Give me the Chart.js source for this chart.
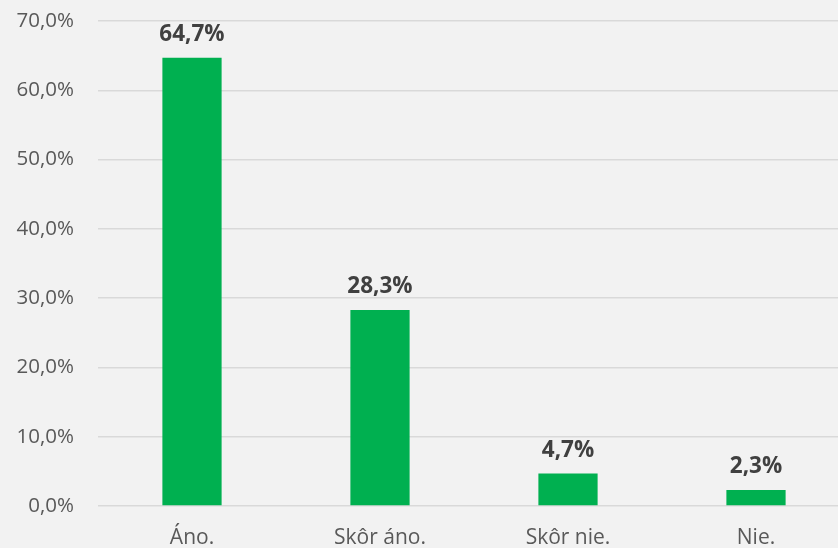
<!DOCTYPE html>
<html>
<head>
<meta charset="utf-8">
<script src="https://cdn.jsdelivr.net/npm/chart.js@4/dist/chart.umd.min.js"></script>
<style>
  html, body { margin: 0; padding: 0; background: #f2f2f2; overflow: hidden; }
  #wrap { position: relative; width: 850px; height: 548px; }
</style>
</head>
<body>
<div id="wrap"><canvas id="chart"></canvas></div>
<script>
const categories = ["Áno.", "Skôr áno.", "Skôr nie.", "Nie."];
const shares = [64.7, 28.3, 4.7, 2.3];
const yTicks = [0, 10, 20, 30, 40, 50, 60, 70];

function pct(v) {
    return v.toFixed(1).replace(".", ",") + "%";
}

const valueLabels = {
    id: "valueLabels",
    afterDatasetsDraw(chart) {
        const ctx = chart.ctx;
        const meta = chart.getDatasetMeta(0);
        ctx.save();
        ctx.font = "bold 22.5px 'Open Sans'";
        ctx.fillStyle = "#404040";
        ctx.textAlign = "center";
        ctx.textBaseline = "middle";
        meta.data.forEach(function (bar, i) {
            ctx.fillText(pct(shares[i]), bar.x, bar.y - 23);
        });
        ctx.restore();
    }
};

const ctx = document.getElementById("chart").getContext("2d");
new Chart(ctx, {
    type: "bar",
    data: {
        labels: categories,
        datasets: [{
            data: shares,
            backgroundColor: "#00b050",
            barPercentage: 0.315,
            categoryPercentage: 1
        }]
    },
    options: {
        responsive: true,
        maintainAspectRatio: false,
        animation: false,
        layout: { padding: { top: 21, left: 0, right: 0, bottom: 0 } },
        plugins: {
            legend: { display: false },
            tooltip: { enabled: false }
        },
        scales: {
            x: {
                grid: { display: false, drawTicks: false },
                border: { display: false },
                ticks: {
                    color: "#595959",
                    font: { family: "'Open Sans'", size: 21 },
                    padding: 19
                },
                afterFit: function (scale) {
                    scale.height = 42;
                    scale.paddingLeft = 0;
                    scale.paddingRight = 0;
                }
            },
            y: {
                min: 0,
                max: 70,
                afterBuildTicks: function (scale) {
                    scale.ticks = yTicks.map(function (v) { return { value: v }; });
                },
                grid: { color: "#d9d9d9", lineWidth: 1.5, drawTicks: false },
                border: { display: false },
                ticks: {
                    color: "#595959",
                    font: { family: "'Open Sans'", size: 20.5 },
                    padding: 24,
                    callback: function (v) { return pct(v); }
                },
                afterFit: function (scale) {
                    scale.width = 98;
                    scale.paddingTop = 0;
                    scale.paddingBottom = 0;
                }
            }
        }
    },
    plugins: [valueLabels]
});
</script>
</body>
</html>
